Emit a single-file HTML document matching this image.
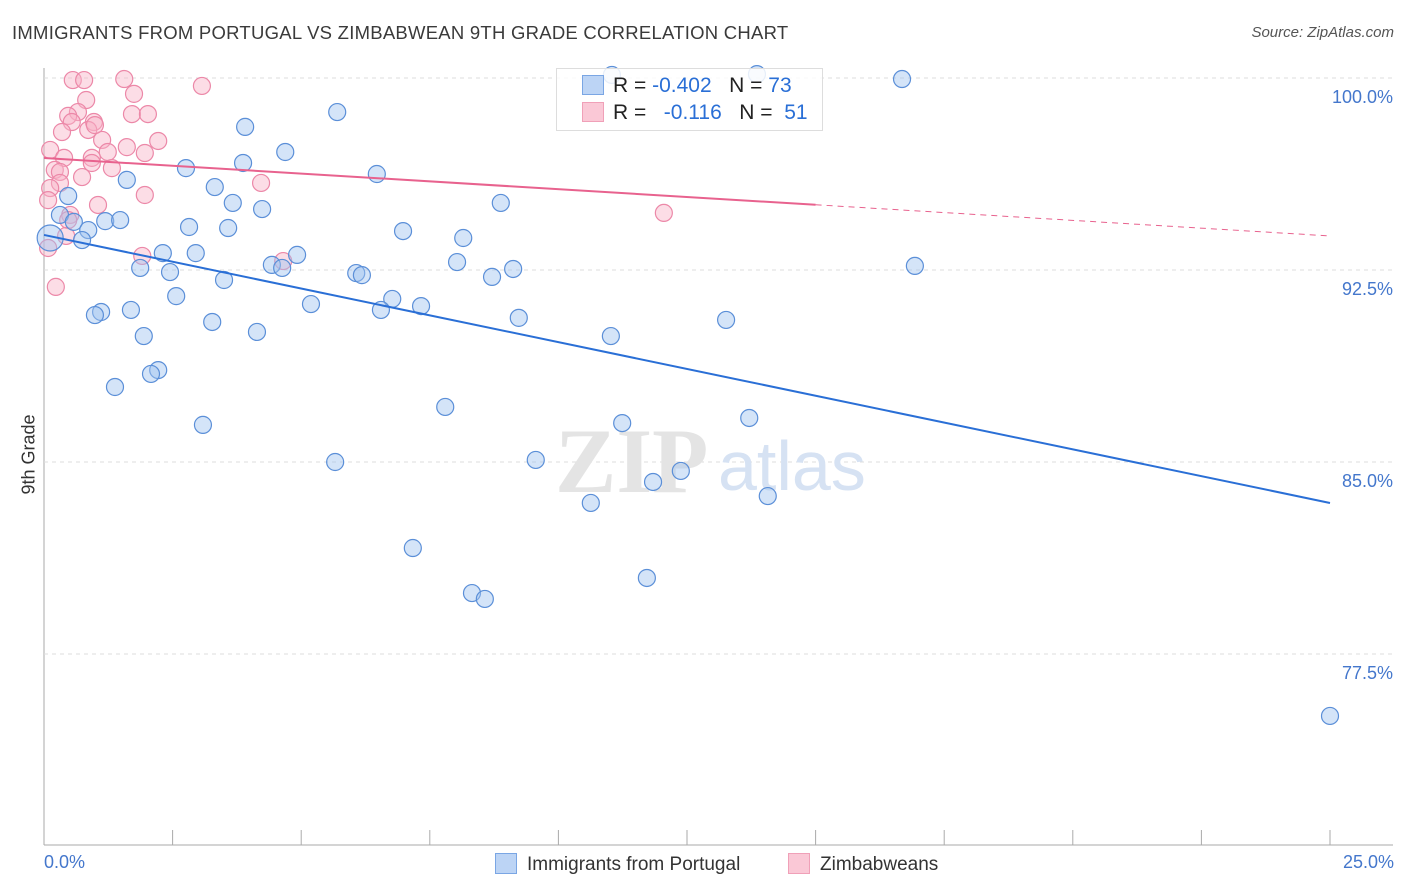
<!DOCTYPE html>
<html><head><meta charset="utf-8">
<style>
body{margin:0;background:#fff;font-family:"Liberation Sans",sans-serif;}
#wrap{position:relative;width:1406px;height:892px;overflow:hidden;}
.t{position:absolute;white-space:nowrap;}
</style></head>
<body>
<div id="wrap">
<div class="t" style="left:12px;top:22px;font-size:18.5px;letter-spacing:0.25px;color:#3a3a3a;">IMMIGRANTS FROM PORTUGAL VS ZIMBABWEAN 9TH GRADE CORRELATION CHART</div>
<div class="t" style="right:12px;top:24px;font-size:15px;color:#555;font-style:italic;">Source: ZipAtlas.com</div>
<svg id="chart" width="1406" height="892" style="position:absolute;left:0;top:0"></svg>
</div>
<script>
const blueX=[13.86,16.68,11.04,5.70,3.91,4.69,3.87,2.76,6.47,1.61,3.32,0.47,3.67,8.88,4.24,0.31,0.58,1.19,1.48,2.82,3.58,0.86,6.98,8.15,0.74,0.12,2.31,2.95,4.92,4.43,4.63,8.03,9.12,1.87,2.45,6.07,6.18,8.71,16.93,3.50,2.57,6.77,5.19,7.33,6.55,1.69,1.11,0.99,9.23,3.27,13.26,1.94,4.14,11.02,2.22,2.08,1.38,7.80,13.71,3.09,11.24,5.66,9.56,12.38,11.84,14.07,10.63,7.17,11.72,8.32,8.57,25.0];
const blueY=[100.15,99.96,100.12,98.67,98.09,97.11,96.68,96.48,96.25,96.02,95.74,95.39,95.12,95.12,94.88,94.65,94.38,94.41,94.45,94.18,94.14,94.06,94.02,93.75,93.67,93.75,93.16,93.16,93.09,92.70,92.58,92.81,92.54,92.58,92.42,92.38,92.30,92.23,92.66,92.11,91.48,91.37,91.17,91.09,90.94,90.94,90.86,90.74,90.63,90.47,90.55,89.92,90.08,89.92,88.59,88.44,87.93,87.15,86.72,86.45,86.52,85.00,85.08,84.65,84.22,83.67,83.40,81.64,80.47,79.88,79.65,75.08];
const pinkX=[0.56,0.78,1.56,3.07,1.75,0.82,0.66,0.47,1.71,2.02,0.97,0.54,0.35,0.86,1.13,2.22,1.61,0.12,1.24,1.96,0.39,0.93,0.93,0.21,0.31,0.74,0.31,0.12,4.22,1.96,1.05,0.51,0.47,12.05,0.43,0.08,1.91,4.65,0.23,1.32,0.08,0.99];
const pinkY=[99.92,99.92,99.96,99.69,99.38,99.14,98.67,98.52,98.59,98.59,98.28,98.28,97.89,97.97,97.58,97.54,97.30,97.19,97.11,97.07,96.88,96.88,96.68,96.41,96.33,96.13,95.90,95.70,95.90,95.43,95.04,94.65,94.45,94.73,93.83,93.36,93.05,92.85,91.84,96.48,95.23,98.16];
const yTicks=[100,92.5,85,77.5];
const yTickLabels=["100.0%","92.5%","85.0%","77.5%"];
const blueTrend=[93.87,83.4];
const pinkTrend=[96.875,93.83];
const NS="http://www.w3.org/2000/svg";
const svg=document.getElementById('chart');
const X=v=>44+v*51.44;
const Y=v=>78+(100-v)*25.6;
function mk(tag,attrs){const e=document.createElementNS(NS,tag);for(const k in attrs)e.setAttribute(k,attrs[k]);svg.appendChild(e);return e;}
let ax=mk('line',{x1:44,y1:68,x2:44,y2:845,stroke:'#aaa','stroke-width':1});


let bx=mk('line',{x1:44,y1:845,x2:1393,y2:845,stroke:'#aaa','stroke-width':1});


for(let i=0;i<=10;i++){const t=mk('line',{x1:X(i*2.5),y1:830,x2:X(i*2.5),y2:845,stroke:'#aaa'});

}
yTicks.forEach((v,i)=>{const g=mk('line',{x1:44,x2:1393,y1:Y(v),y2:Y(v),stroke:'#ddd','stroke-dasharray':'4,4'});


const t=mk('text',{x:1393,y:Y(v)+25,'text-anchor':'end','font-size':18,fill:'#4477cc','font-family':'Liberation Sans'});t.textContent=yTickLabels[i];

});
let wm=mk('text',{x:555,y:492,'font-size':92,fill:'#e4e4e4','font-family':'Liberation Serif','font-weight':'bold'});wm.textContent='ZIP';


let wm2=mk('text',{x:718,y:490,'font-size':70,fill:'#d6e2f3','font-family':'Liberation Sans'});wm2.textContent='atlas';


pinkX.forEach((x,i)=>{const c=mk('circle',{cx:X(x),cy:Y(pinkY[i]),r:8.5,fill:'rgba(248,180,200,0.45)',stroke:'#ec88a8','stroke-width':1.2});

});
blueX.forEach((x,i)=>{const c=mk('circle',{cx:X(x),cy:Y(blueY[i]),r:i==25?13:8.5,fill:'rgba(160,195,240,0.45)',stroke:'#5b8fd8','stroke-width':1.2});

});
let bl=mk('line',{x1:X(0),y1:Y(blueTrend[0]),x2:X(25),y2:Y(blueTrend[1]),stroke:'#2a6fd6','stroke-width':2});


const pm=pinkTrend[0]+(pinkTrend[1]-pinkTrend[0])*15/25;
let pl=mk('line',{x1:X(0),y1:Y(pinkTrend[0]),x2:X(15),y2:Y(pm),stroke:'#e8628e','stroke-width':2});


let pd=mk('line',{x1:X(15),y1:Y(pm),x2:X(25),y2:Y(pinkTrend[1]),stroke:'#e8628e','stroke-width':1,'stroke-dasharray':'6,5'});


</script>
<div class="t" style="left:556px;top:68px;width:265px;height:61px;border:1px solid #ddd;background:rgba(255,255,255,0.85);"></div>
<div class="t" style="left:582px;top:74px;font-size:21px;color:#222;">
<span style="display:inline-block;width:20px;height:18px;background:#bcd4f5;border:1px solid #7aa6e4;vertical-align:-3px;margin-right:9px"></span>R = <span style="color:#2a6fd6">-0.402</span>&nbsp;&nbsp;&nbsp;N = <span style="color:#2a6fd6">73</span></div>
<div class="t" style="left:582px;top:101px;font-size:21px;color:#222;">
<span style="display:inline-block;width:20px;height:18px;background:#fac8d6;border:1px solid #f0a0b8;vertical-align:-3px;margin-right:9px"></span>R = &nbsp;&nbsp;<span style="color:#2a6fd6">-0.116</span>&nbsp;&nbsp;&nbsp;N = &nbsp;<span style="color:#2a6fd6">51</span></div>
<div class="t" style="left:-11px;top:444px;font-size:18px;color:#333;transform:rotate(-90deg);">9th Grade</div>
<div class="t" style="left:44px;top:852px;font-size:18px;color:#4477cc;">0.0%</div>
<div class="t" style="right:12px;top:852px;font-size:18px;color:#4477cc;">25.0%</div>
<div class="t" style="left:495px;top:853px;font-size:19px;color:#333;"><span style="display:inline-block;width:20px;height:19px;background:#bcd4f5;border:1px solid #7aa6e4;vertical-align:-4px;margin-right:10px"></span>Immigrants from Portugal</div>
<div class="t" style="left:788px;top:853px;font-size:19px;color:#333;"><span style="display:inline-block;width:20px;height:19px;background:#fac8d6;border:1px solid #f0a0b8;vertical-align:-4px;margin-right:10px"></span>Zimbabweans</div>
</body></html>
